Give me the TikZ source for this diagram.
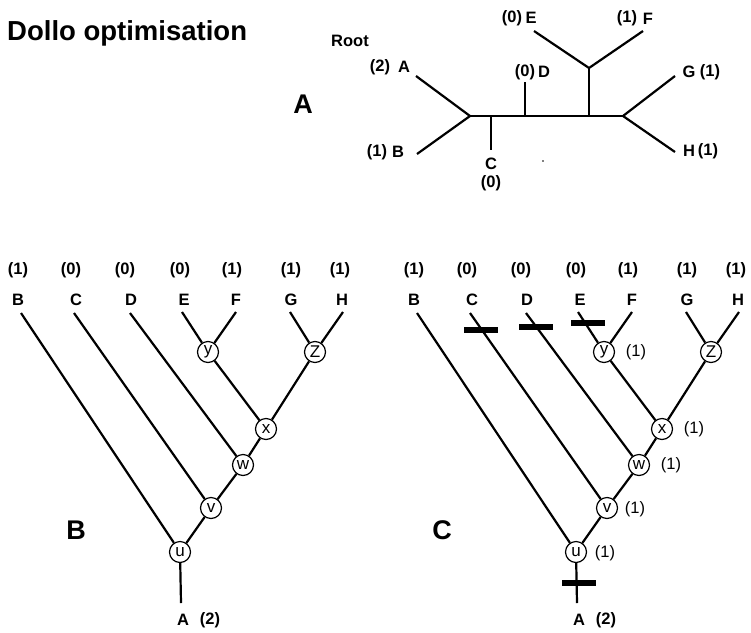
\documentclass[tikz,border=0pt]{standalone}
\usepackage{fontspec}
\setmainfont{Liberation Sans}
\newcommand\fsz[1]{\fontsize{#1}{#1}\selectfont}
\tikzset{
  br/.style={line width=2.2pt},
  lbl/.style={inner sep=0pt, font=\fsz{16.5}\bfseries},
  nlbl/.style={inner sep=0pt, font=\fsz{16.5}},
  circ/.style={circle, draw, line width=1.2pt, minimum size=21pt, inner sep=0pt, fill=white, font=\fsz{17}},
  panel/.style={inner sep=0pt, font=\fsz{27}\bfseries},
  barbox/.style={rectangle, fill=black, minimum width=34pt, minimum height=6pt, inner sep=0pt},
}
\newcommand\dtree[1]{%
  \coordinate (#1Bt) at (21,313);
  \coordinate (#1Ct) at (74,313);
  \coordinate (#1Dt) at (130,313);
  \coordinate (#1Et) at (182,312);
  \coordinate (#1Ft) at (236,312);
  \coordinate (#1Gt) at (290,312);
  \coordinate (#1Ht) at (343,312);
  \coordinate (#1At) at (181,603);
  \node[circ] (#1u) at (180,552) {u};
  \node[circ] (#1v) at (211,508) {v};
  \node[circ] (#1w) at (243,465) {w};
  \node[circ] (#1x) at (266,429) {x};
  \node[circ] (#1y) at (208,352) {y};
  \node[circ] (#1z) at (315,352) {Z};
  \draw[br] (#1Bt) -- (#1u);
  \draw[br] (#1Ct) -- (#1v);
  \draw[br] (#1Dt) -- (#1w);
  \draw[br] (#1Et) -- (#1y);
  \draw[br] (#1Ft) -- (#1y);
  \draw[br] (#1Gt) -- (#1z);
  \draw[br] (#1Ht) -- (#1z);
  \draw[br] (#1y) -- (#1x);
  \draw[br] (#1z) -- (#1x);
  \draw[br] (#1x) -- (#1w);
  \draw[br] (#1w) -- (#1v);
  \draw[br] (#1v) -- (#1u);
  \draw[br] (#1u) -- (#1At);
  \node[lbl] (#1lB) at (18,300) {B};
  \node[lbl] (#1lC) at (76,300) {C};
  \node[lbl] (#1lD) at (131,300) {D};
  \node[lbl] (#1lE) at (184,300) {E};
  \node[lbl] (#1lF) at (236,300) {F};
  \node[lbl] (#1lG) at (291,300) {G};
  \node[lbl] (#1lH) at (342,300) {H};
  \node[lbl] (#1sB) at (18,270) {(1)};
  \node[lbl] (#1sC) at (71,270) {(0)};
  \node[lbl] (#1sD) at (125,270) {(0)};
  \node[lbl] (#1sE) at (180,270) {(0)};
  \node[lbl] (#1sF) at (232,270) {(1)};
  \node[lbl] (#1sG) at (291,270) {(1)};
  \node[lbl] (#1sH) at (340,270) {(1)};
  \node[lbl] (#1lA) at (183,620) {A};
  \node[lbl] (#1sA) at (210,620) {(2)};
}
\begin{document}
\begin{tikzpicture}[x=1pt,y=-1pt]
\path[use as bounding box, fill=white] (0,0) rectangle (751,632);
% title
\node[inner sep=0pt, anchor=base west, font=\fsz{27.5}\bfseries] (title) at (7,40) {Dollo optimisation};
% panel A tree
\node[panel] (pA) at (303,104) {A};
\coordinate (j1) at (470,116);
\coordinate (j2) at (623,116);
\coordinate (jc) at (491,116);
\coordinate (jd) at (525,116);
\coordinate (je) at (589,116);
\coordinate (ef) at (589,68);
\coordinate (tA) at (416,76);
\coordinate (tB) at (417,154);
\coordinate (tC) at (491,150);
\coordinate (tD) at (525,82);
\coordinate (tE) at (534,31);
\coordinate (tF) at (643,31);
\coordinate (tG) at (675,76);
\coordinate (tH) at (675,152);
\draw[br] (tA) -- (j1) -- (tB);
\draw[br] (j1) -- (j2);
\draw[br] (jc) -- (tC);
\draw[br] (jd) -- (tD);
\draw[br] (je) -- (ef);
\draw[br] (tE) -- (ef) -- (tF);
\draw[br] (tG) -- (j2) -- (tH);
\node[lbl] (root) at (350,41) {Root};
\node[lbl] (aA1) at (380,67) {(2)};
\node[lbl] (aA2) at (404,67) {A};
\node[lbl] (aB1) at (377,152) {(1)};
\node[lbl] (aB2) at (398,152) {B};
\node[lbl] (aC1) at (491,164) {C};
\node[lbl] (aC2) at (491,183) {(0)};
\node[lbl] (aD1) at (525,72) {(0)};
\node[lbl] (aD2) at (544,72) {D};
\node[lbl] (aE1) at (512,18) {(0)};
\node[lbl] (aE2) at (531,18) {E};
\node[lbl] (aF1) at (627,18) {(1)};
\node[lbl] (aF2) at (648,19) {F};
\node[lbl] (aG1) at (689,72) {G};
\node[lbl] (aG2) at (710,72) {(1)};
\node[lbl] (aH1) at (689,151) {H};
\node[lbl] (aH2) at (708,151) {(1)};
\fill (543,161) circle (0.8);
% panel B
\node[panel] (pB) at (76,530) {B};
\begin{scope}
\dtree{b}
\end{scope}
% panel C
\node[panel] (pC) at (442,530) {C};
\begin{scope}[xshift=396pt]
\dtree{c}
\end{scope}
\node[barbox] (barC) at (481,330) {};
\node[barbox] (barD) at (536,327) {};
\node[barbox] (barE) at (588,323) {};
\node[barbox] (barA) at (579,583) {};
\node[nlbl] (ny) at (636,352) {(1)};
\node[nlbl] (nx) at (694,429) {(1)};
\node[nlbl] (nw) at (671,465) {(1)};
\node[nlbl] (nv) at (635,509) {(1)};
\node[nlbl] (nu) at (605,553) {(1)};
\end{tikzpicture}
\end{document}
